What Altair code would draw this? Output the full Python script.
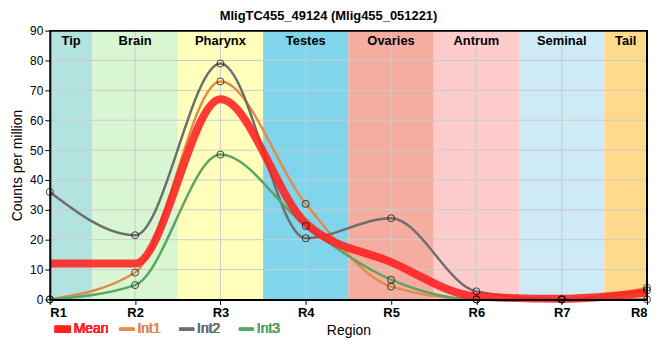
import altair as alt
import pandas as pd

# ---- data ----
region_idx = [1, 2, 3, 4, 5, 6, 7, 8]
mean_vals = [12, 12, 67, 25.5, 12.5, 1.0, 0.2, 2.3]
int1_vals = [0, 9, 73, 32, 4.3, 0, 0, 3.9]
int2_vals = [36, 21.5, 79, 20.5, 27.2, 2.7, 0, 0]
int3_vals = [0, 4.8, 48.5, 24.6, 6.6, 0, 0, 3.0]

band_names = ["Tip", "Brain", "Pharynx", "Testes", "Ovaries", "Antrum", "Seminal", "Tail"]
band_start = [1, 1.5, 2.5, 3.5, 4.5, 5.5, 6.5, 7.5]
band_end = [1.5, 2.5, 3.5, 4.5, 5.5, 6.5, 7.5, 8]
band_colors = ["#b3e3df", "#d9f6d2", "#ffffbb", "#80d4ec", "#f5ada0", "#ffcccc", "#cdeaf5", "#fdda8c"]

series_names = ["Mean", "Int1", "Int2", "Int3"]
series_colors = ["#ff2020", "#e08c4a", "#6e6e6e", "#5aa660"]
y_ticks = [0, 10, 20, 30, 40, 50, 60, 70, 80, 90]

FONT = "Liberation Sans"
W, H = 600, 270

# legend layout (pixel offsets from the plot's left edge)
LEG_X = [5, 70, 130, 190]
LEG_SYM_W = [16, 15, 15, 15]
LEG_SYM_T = [7, 3, 3, 3]
LEG_Y = 300

bands = pd.DataFrame({"name": band_names, "start": band_start, "end": band_end,
                      "mid": [(a + b) / 2 for a, b in zip(band_start, band_end)]})
long_rows = []
for s, vals in zip(series_names, [mean_vals, int1_vals, int2_vals, int3_vals]):
    for r, v in zip(region_idx, vals):
        long_rows.append({"series": s, "region": r, "value": v})
long = pd.DataFrame(long_rows)
vgrid = pd.DataFrame({"region": region_idx})
hgrid = pd.DataFrame({"value": y_ticks[1:]})

xscale = alt.Scale(domain=[1, 8], nice=False, zero=False)
yscale = alt.Scale(domain=[0, 90], nice=False)

xaxis = alt.Axis(values=region_idx, labelExpr="'R' + datum.value", title="Region",
                 grid=False, tickSize=5, tickColor="black", domainColor="black", domainWidth=2,
                 labelFont=FONT, labelFontSize=13, labelFontWeight="bold", labelColor="black",
                 labelOverlap=False,
                 titleFont=FONT, titleFontSize=14, titleFontWeight="normal", titleColor="black",
                 titlePadding=4, labelPadding=2, zindex=2)
yaxis = alt.Axis(values=y_ticks, title="Counts per million", grid=False, tickSize=5,
                 tickColor="black", domainColor="black", domainWidth=2,
                 labelFont=FONT, labelFontSize=12, labelColor="black", labelOverlap=False,
                 labelPadding=2,
                 titleFont=FONT, titleFontSize=14, titleFontWeight="normal", titleColor="black",
                 titlePadding=5, zindex=2)

X = lambda f: alt.X(f, scale=xscale, axis=xaxis)
Y = lambda f: alt.Y(f, scale=yscale, axis=yaxis)

band_layer = alt.Chart(bands).mark_rect().encode(
    x=X("start:Q"),
    x2="end:Q",
    y=alt.value(0), y2=alt.value(H),
    fill=alt.Fill("name:N", scale=alt.Scale(domain=band_names, range=band_colors), legend=None),
)

band_text = alt.Chart(bands).mark_text(font=FONT, fontSize=13, fontWeight="bold",
                                        color="black", baseline="middle").encode(
    x=X("mid:Q"), y=alt.value(10), text="name:N")

vgrid_layer = alt.Chart(vgrid).mark_rule(color="#cccccc", strokeWidth=1).encode(
    x=X("region:Q"))
hgrid_layer = alt.Chart(hgrid).mark_rule(color="#cccccc", strokeWidth=1).encode(
    y=Y("value:Q"))

stroke_enc = alt.Stroke("series:N", scale=alt.Scale(domain=series_names, range=series_colors),
                        legend=None)

int_lines = alt.Chart(long).transform_filter(alt.datum.series != "Mean").mark_line(
    interpolate="monotone", strokeWidth=2.5).encode(
    x=X("region:Q"), y=Y("value:Q"),
    stroke=stroke_enc, detail="series:N")

mean_line = alt.Chart(long).transform_filter(alt.datum.series == "Mean").mark_line(
    interpolate="monotone", strokeWidth=8, opacity=0.88).encode(
    x=X("region:Q"), y=Y("value:Q"),
    stroke=stroke_enc)

points = alt.Chart(long).transform_filter(alt.datum.series != "Mean").mark_point(
    filled=False, color="black", size=50, strokeWidth=1).encode(
    x=X("region:Q"), y=Y("value:Q"))

top_border = alt.Chart(bands).mark_rule(color="black", strokeWidth=1).encode(
    x=alt.value(0), x2=alt.value(W), y=alt.value(0))
right_border = alt.Chart(bands).mark_rule(color="black", strokeWidth=1).encode(
    x=alt.value(W), y=alt.value(0), y2=alt.value(H))

# legend entries drawn below the plot
legend_layers = []
for name, col, lx, sw, st in zip(series_names, series_colors, LEG_X, LEG_SYM_W, LEG_SYM_T):
    legend_layers.append(
        alt.Chart(bands).mark_rule(color=col, strokeWidth=st, opacity=0.9).encode(
            x=alt.value(lx), x2=alt.value(lx + sw), y=alt.value(LEG_Y)))
    legend_layers.append(
        alt.Chart(bands).mark_text(font=FONT, fontSize=14, color=col, align="left",
                                   baseline="middle").encode(
            x=alt.value(lx + sw + 3), y=alt.value(LEG_Y), text=alt.value(name)))

chart = alt.layer(band_layer, vgrid_layer, hgrid_layer, band_text, int_lines, mean_line,
                  points, top_border, right_border, *legend_layers).properties(
    width=W, height=H,
    title=alt.TitleParams("MligTC455_49124 (Mlig455_051221)", font=FONT, fontSize=13,
                          fontWeight="bold", color="black", offset=2, dx=-20),
    autosize=alt.AutoSizeParams(type="none"),
    padding={"left": 42, "top": 22, "right": 5, "bottom": 40},
).configure_view(stroke=None).configure(background="white")

chart.save("out.html", embed_options={"renderer": "svg", "actions": False})
